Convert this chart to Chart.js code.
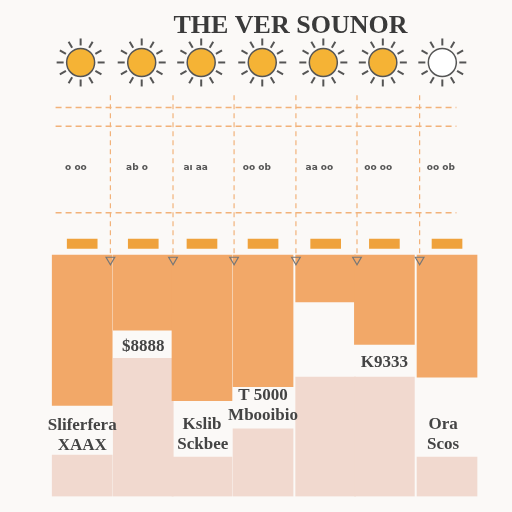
<!DOCTYPE html>
<html><head><meta charset="utf-8">
<script src="https://cdn.jsdelivr.net/npm/chart.js@4/dist/chart.umd.min.js"></script>
<style>html,body{margin:0;background:#fbf9f7}#wrap{width:512px;height:512px}</style>
</head><body><div id="wrap"><canvas id="c"></canvas></div>
<script>
// column centres and bar extents (y measured from top of picture)
var colX=[34,112,187,265,345,420,500];
var orangeTop=[255,255,255,255,255,255,255];
var orangeBottom=[415,335,410,395,305,350,385];
var paleTop=[468,365,470,440,385,385,470];
var capY=[243,243,243,243,243,243,243];
var sunX=[32,110,186,264,342,418,494];
var sunFill=['#f5b335','#f5b335','#f5b335','#f5b335','#f5b335','#f5b335','#ffffff'];
var hLines=[98,118,210];
var vLineX=[70,150,228,307,385,465];
var title='THE VER SOUNOR';
var smallLabels=['o oo','ab o','aı aa','oo ob','aa oo','oo oo','oo ob'];
var barLabels=[
 {x:34,y:437,t:'Sliferfera'},{x:34,y:458,t:'XAAX'},
 {x:112,y:352,t:'$8888'},
 {x:187,y:435,t:'Kslib'},{x:188,y:457,t:'Sckbee'},
 {x:265,y:405,t:'T 5000'},{x:265,y:426,t:'Mbooibio'},
 {x:420,y:370,t:'K9333'},
 {x:495,y:435,t:'Ora'},{x:495,y:457,t:'Scos'}
];

var ds=[];
ds.push({type:'bar',data:colX.map(function(x,i){return {x:x,y:[paleTop[i],512]};}),backgroundColor:'#f1d9cf',barThickness:60,grouped:false,order:5});
ds.push({type:'bar',data:colX.map(function(x,i){return {x:x,y:[orangeTop[i],orangeBottom[i]]};}),backgroundColor:'#f2a868',barThickness:60,grouped:false,order:4});
ds.push({type:'bar',data:colX.map(function(x,i){return {x:x,y:[capY[i]-5,capY[i]+5]};}),backgroundColor:'#efa23c',barThickness:30,grouped:false,order:3});
hLines.forEach(function(y){
 ds.push({type:'line',data:[{x:0,y:y},{x:512,y:y}],borderColor:'#f2b27a',borderWidth:1.5,borderDash:[6,4],pointRadius:0,order:2});
});
vLineX.forEach(function(x){
 ds.push({type:'line',data:[{x:x,y:85},{x:x,y:258}],borderColor:'#f2b27a',borderWidth:1.2,borderDash:[5,4],pointRadius:0,order:2});
});
ds.push({type:'scatter',data:vLineX.map(function(x){return {x:x,y:260};}),pointStyle:'triangle',rotation:180,radius:5,backgroundColor:'rgba(0,0,0,0)',borderColor:'#777',borderWidth:1.2,order:1});
ds.push({type:'scatter',data:sunX.map(function(x){return {x:x,y:50};}),pointStyle:'circle',radius:14,backgroundColor:sunFill,borderColor:'#555',borderWidth:1.5,order:0});

var sunRays={id:'sunRays',beforeDatasetsDraw:function(ch){
 var ctx=ch.ctx,meta=ch.getDatasetMeta(ch.data.datasets.length-1);
 ctx.save();ctx.strokeStyle='#555';ctx.lineWidth=2;
 meta.data.forEach(function(p){
  for(var k=0;k<12;k++){var a=k*Math.PI/6;ctx.beginPath();
   ctx.moveTo(p.x+Math.cos(a)*17,p.y+Math.sin(a)*17);ctx.lineTo(p.x+Math.cos(a)*24,p.y+Math.sin(a)*24);ctx.stroke();}
 });
 ctx.restore();
}};
var texts={id:'texts',afterDatasetsDraw:function(ch){
 var ctx=ch.ctx,sx=ch.scales.x,sy=ch.scales.y;
 ctx.save();ctx.textAlign='center';ctx.textBaseline='middle';
 ctx.fillStyle='#3a3a3a';ctx.font='bold 26px "Liberation Serif"';
 ctx.fillText(title,sx.getPixelForValue(300),sy.getPixelForValue(12));
 ctx.font='bold 9px "DejaVu Sans"';ctx.fillStyle='#555';
 smallLabels.forEach(function(t,i){ctx.fillText(t,sx.getPixelForValue(colX[i]-8),sy.getPixelForValue(162));});
 ctx.font='bold 17px "Liberation Serif"';ctx.fillStyle='#444';
 barLabels.forEach(function(l){ctx.fillText(l.t,sx.getPixelForValue(l.x),sy.getPixelForValue(l.y));});
 ctx.restore();
}};
new Chart(document.getElementById('c'),{
 data:{datasets:ds},
 options:{responsive:true,maintainAspectRatio:false,animation:false,layout:{padding:0},
  plugins:{legend:{display:false},tooltip:{enabled:false}},
  scales:{x:{type:'linear',min:0,max:512,display:false},y:{type:'linear',min:0,max:512,reverse:true,display:false}}},
 plugins:[sunRays,texts]
});
</script></body></html>
